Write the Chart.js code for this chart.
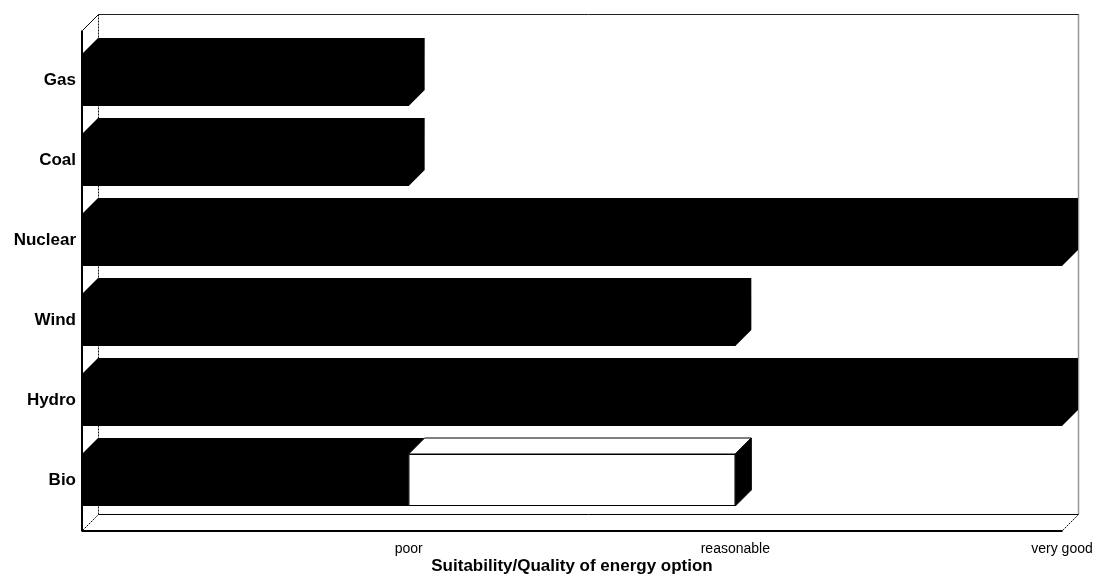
<!DOCTYPE html>
<html>
<head>
<meta charset="utf-8">
<title>Suitability of energy options</title>
<script src="https://cdn.jsdelivr.net/npm/chart.js@4/dist/chart.umd.min.js"></script>
<style>
  html, body { margin: 0; padding: 0; background: #ffffff; }
  #wrap { width: 1093px; height: 574px; }
</style>
</head>
<body>
<div id="wrap"><canvas id="chart" width="1093" height="574"></canvas></div>
<script>
// Energy options, listed top to bottom
const categories = ['Gas', 'Coal', 'Nuclear', 'Wind', 'Hydro', 'Bio'];
// Rating of each option today (0 = none, 1 = poor, 2 = reasonable, 3 = very good)
const currentRating = [1, 1, 3, 2, 3, 1];
// Additional rating that could be reached (stacked after the current rating)
const potentialGain = [0, 0, 0, 0, 0, 1];
// Words shown under the value axis
const scaleLabels = ['', 'poor', 'reasonable', 'very good'];
const axisTitle = 'Suitability/Quality of energy option';

const FONT = '"Liberation Sans", Arial, sans-serif';
const DEPTH_X = 16;   // horizontal depth of the 3D box
const DEPTH_Y = 16;   // vertical depth of the 3D box
const WALL_EXTRA = 10; // walls reach a little beyond the first/last category

function line(ctx, pts, opts) {
  ctx.save();
  ctx.beginPath();
  ctx.moveTo(pts[0][0], pts[0][1]);
  for (let i = 1; i < pts.length; i++) ctx.lineTo(pts[i][0], pts[i][1]);
  ctx.strokeStyle = opts.color || '#000';
  ctx.lineWidth = opts.width || 1;
  ctx.setLineDash(opts.dash || []);
  ctx.stroke();
  ctx.restore();
}

function poly(ctx, pts, fill, stroke) {
  ctx.save();
  ctx.beginPath();
  ctx.moveTo(pts[0][0], pts[0][1]);
  for (let i = 1; i < pts.length; i++) ctx.lineTo(pts[i][0], pts[i][1]);
  ctx.closePath();
  ctx.fillStyle = fill;
  ctx.fill();
  if (stroke) {
    ctx.strokeStyle = stroke;
    ctx.lineWidth = 1;
    ctx.stroke();
  }
  ctx.restore();
}

// Walls and floor of the 3D box, drawn behind the bars
const boxWalls = {
  id: 'boxWalls',
  beforeDatasetsDraw(chart) {
    const ctx = chart.ctx;
    const xs = chart.scales.x;
    const area = chart.chartArea;
    const x0 = Math.round(xs.getPixelForValue(xs.min)) + 0.5;
    const x1 = Math.round(xs.getPixelForValue(xs.max)) + 0.5;
    const top = Math.round(area.top - WALL_EXTRA) + 0.5;
    const bot = Math.round(area.bottom + WALL_EXTRA) + 0.5;
    const bx0 = x0 + DEPTH_X, bx1 = x1 + DEPTH_X;
    const btop = top - DEPTH_Y, bbot = bot - DEPTH_Y;

    // back wall
    line(ctx, [[bx0, btop], [bx1, btop]], { color: '#222' });
    line(ctx, [[bx1, btop], [bx1, bbot]], { color: '#333', dash: [1, 1], width: 1.5 });
    line(ctx, [[bx0, btop], [bx0, bbot]], { color: '#111', dash: [2, 1] });
    // floor
    line(ctx, [[bx0, bbot], [bx1, bbot]], { color: '#000' });
    line(ctx, [[x0, bot], [bx0, bbot]], { color: '#111', dash: [2, 1] });
    line(ctx, [[x1, bot], [bx1, bbot]], { color: '#111', dash: [2, 1] });
    line(ctx, [[x0 - 0.5, bot + 0.5], [x1, bot + 0.5]], { color: '#000', width: 2 });
    // left wall
    line(ctx, [[x0, top], [bx0, btop]], { color: '#000' });
    line(ctx, [[x0 - 0.5, top], [x0 - 0.5, bot + 1]], { color: '#000', width: 2 });
  }
};

// Top and side faces of every bar, drawn from the bar elements
const barDepth = {
  id: 'barDepth',
  afterDatasetsDraw(chart) {
    const ctx = chart.ctx;
    const sets = chart.data.datasets;
    sets.forEach((ds, di) => {
      const meta = chart.getDatasetMeta(di);
      meta.data.forEach((bar, i) => {
        if (!ds.data[i]) return;
        const p = bar.getProps(['x', 'y', 'base', 'height'], true);
        const L = Math.min(p.base, p.x), R = Math.max(p.base, p.x);
        const T = p.y - p.height / 2, B = p.y + p.height / 2;
        const fill = ds.backgroundColor;
        const edge = ds.borderWidth ? ds.borderColor : null;
        const covered = sets.slice(di + 1).some(s => s.data[i] > 0);
        if (!edge) {
          // solid block: front, top and (unless covered) side as one shape
          const pts = covered
            ? [[L, B], [L, T], [L + DEPTH_X, T - DEPTH_Y], [R + DEPTH_X, T - DEPTH_Y], [R, T], [R, B]]
            : [[L, B], [L, T], [L + DEPTH_X, T - DEPTH_Y], [R + DEPTH_X, T - DEPTH_Y], [R + DEPTH_X, B - DEPTH_Y], [R, B]];
          poly(ctx, pts, fill, null);
          return;
        }
        // outlined block: top face then dark side face
        poly(ctx, [[L, T], [L + DEPTH_X, T - DEPTH_Y], [R + DEPTH_X, T - DEPTH_Y], [R, T]], fill, edge);
        if (!covered) {
          poly(ctx, [[R, T], [R + DEPTH_X, T - DEPTH_Y], [R + DEPTH_X, B - DEPTH_Y], [R, B]], '#000', edge);
        }
      });
    });
  }
};

new Chart(document.getElementById('chart'), {
  type: 'bar',
  data: {
    labels: categories,
    datasets: [
      {
        label: 'Current',
        data: currentRating,
        backgroundColor: '#000000',
        borderWidth: 0,
        barPercentage: 0.65,
        categoryPercentage: 1
      },
      {
        label: 'Potential',
        data: potentialGain,
        backgroundColor: '#ffffff',
        borderColor: '#000000',
        borderWidth: 1,
        borderSkipped: false,
        barPercentage: 0.65,
        categoryPercentage: 1
      }
    ]
  },
  options: {
    indexAxis: 'y',
    responsive: false,
    animation: false,
    devicePixelRatio: 1,
    layout: { padding: { top: 40, right: 31, left: 0, bottom: 0 } },
    plugins: {
      legend: { display: false },
      tooltip: { enabled: false }
    },
    scales: {
      x: {
        stacked: true,
        min: 0,
        max: 3,
        grid: { display: false, drawTicks: false },
        border: { display: false },
        ticks: {
          stepSize: 1,
          autoSkip: false,
          maxRotation: 0,
          padding: 21,
          color: '#000',
          font: { family: FONT, size: 14 },
          callback: (v) => scaleLabels[v] ?? ''
        },
        title: {
          display: true,
          text: axisTitle,
          color: '#000',
          padding: { top: 0, bottom: -1 },
          font: { family: FONT, size: 17, weight: 'bold', lineHeight: 1 }
        },
        afterFit(scale) {
          scale.height = 54;
          scale.paddingLeft = 0;
          scale.paddingRight = 0;
        }
      },
      y: {
        stacked: true,
        grid: { display: false, drawTicks: false },
        border: { display: false },
        ticks: {
          padding: 6,
          color: '#000',
          font: { family: FONT, size: 17, weight: 'bold' }
        },
        afterFit(scale) { scale.width = 82; }
      }
    }
  },
  plugins: [boxWalls, barDepth]
});
</script>
</body>
</html>
